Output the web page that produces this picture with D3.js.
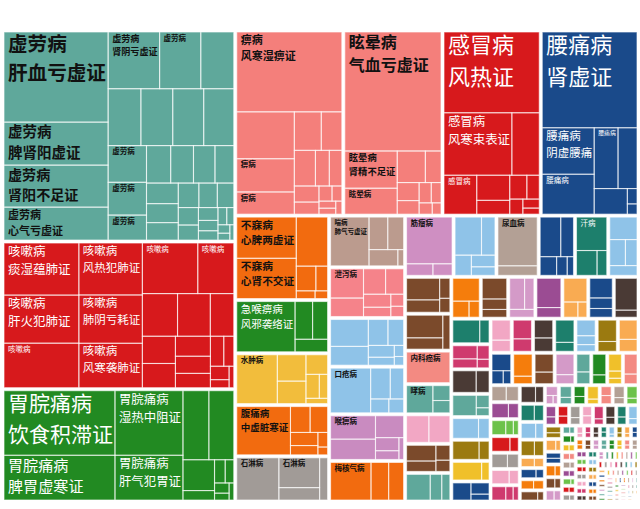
<!DOCTYPE html>
<html>
<head>
<meta charset="utf-8">
<script src="https://cdn.jsdelivr.net/npm/d3@7"></script>
<style>
  html, body { margin: 0; padding: 0; background: #fff; }
  svg { display: block; }
  text { font-family: "Noto Sans CJK SC", "Noto Sans", sans-serif; }
</style>
</head>
<body>
<div id="chart"></div>
<script>
const width = 640, height = 509;
const margin = {top: 32, right: 3, bottom: 9, left: 4};

// 病名（空字符串 = 图中无标注的病种）
const diseases = [
  "虚劳病", "咳嗽病", "胃脘痛病", "痹病", "眩晕病", "感冒病", "腰痛病",
  "不寐病", "急喉痹病", "水肿病", "腹痛病", "石淋病",
  "喘病", "泄泻病", "", "口疮病", "喉痹病", "梅核气病",
  "筋瘤病", "", "尿血病", "口僻病", "汗病", "",
  "", "", "内科癌病", "哮病", "", "", "",
  "", "", "", "", "", "", "",
  "", "", "", "", "", "", "", ""
];

// 每个病种下各证候的病例数
const counts = [
  [9330, 4450, 4350, 3400, 2900, 2320, 1860, 1850, 1800, 1750, 1700, 1400, 1250, 950, 900, 850, 800, 700, 650, 600, 550, 500, 450, 400, 350, 300, 250, 200, 180, 150, 120, 100, 80, 60],
  [3900, 3600, 3330, 3300, 3070, 2820, 2800, 1820, 1500, 1400, 1000, 900, 800, 700, 600, 500, 400, 300, 250, 150, 100],
  [7215, 4995, 4420, 3060, 1800, 1730, 980, 300, 250, 200, 150, 100, 80],
  [8480, 2730, 1935, 1290, 1050, 800, 760, 500, 450, 400, 300, 200, 150, 120, 100, 80],
  [11600, 1980, 1375, 900, 500, 400, 300, 250, 200, 150, 100],
  [7800, 4300, 1736, 1290, 840, 460, 414, 300, 200, 150, 100],
  [9200, 2450, 2100, 1470, 1170, 860, 150, 100],
  [2540, 2480, 1590, 500, 300, 150, 100],
  [3100, 700, 600, 430],
  [2100, 800, 680, 450, 340, 210, 120],
  [2750, 540, 480, 380, 270, 150, 80],
  [1900, 1300, 540, 360],
  [2000, 650, 550, 500, 100],
  [1030, 650, 600, 490, 380, 270, 165, 140],
  [1090, 760, 545, 435, 330, 220, 110, 86],
  [1920, 650, 440, 270, 220],
  [1130, 980, 660, 330, 220, 110],
  [1650, 720, 610],
  [2300, 330, 240],
  [1100, 560, 360, 300, 220],
  [2090, 410],
  [900, 560, 340, 220, 130],
  [1130, 570, 270],
  [690, 460, 340, 300],
  [800, 460, 230, 160],
  [920, 460, 270],
  [1500],
  [820, 290, 240],
  [680, 640],
  [530, 350, 240, 180],
  [700, 340, 240],
  [700, 300, 190],
  [590, 300, 220],
  [540, 340, 220],
  [820, 270],
  [640, 250, 160],
  [520, 280, 230],
  [820, 180],
  [720, 250],
  [380, 260, 190, 120],
  [600, 330],
  [570, 190, 120],
  [610, 250],
  [580, 220],
  [620, 160],
  [380, 250, 130]
];

// 证候标注：证名 = 两行（病名+证名），"-" = 只写病名，"" = 不标注
const labels = [
  ["肝血亏虚证", "脾肾阳虚证", "肾阳不足证", "心气亏虚证", "肾阴亏虚证", "-", "", "", "", "", "", "-", "-", "-"],
  ["痰湿蕴肺证", "肝火犯肺证", "-", "风热犯肺证", "肺阴亏耗证", "风寒袭肺证", "-", "-"],
  ["饮食积滞证", "脾胃虚寒证", "湿热中阻证", "肝气犯胃证"],
  ["风寒湿痹证", "", "-", "-"],
  ["气血亏虚证", "肾精不足证", "-"],
  ["风热证", "风寒束表证", "", "-"],
  ["肾虚证", "阴虚腰痛", "-", "-"],
  ["心脾两虚证", "心肾不交证"],
  ["风邪袭络证"],
  ["-"],
  ["中虚脏寒证"],
  ["-", "-"],
  ["肺气亏虚证"],
  ["-"],
  [],
  ["-"],
  ["-"],
  ["-"],
  ["-"],
  [],
  ["-"],
  ["-"],
  ["-"],
  [], [], [],
  ["-"],
  ["-"]
];

// 右下角的小病种
const tailCounts = [
  [450, 250], [420, 280], [400, 300], [500, 200], [350, 200, 150], [480, 220], [420, 260], [380, 180, 120], [500, 170], [400, 260], [450, 200],
  [300, 200], [350, 150], [280, 120, 90], [330, 160], [260, 220], [300, 180], [250, 140, 90], [320, 150], [270, 190], [300, 160], [240, 130, 90], [290, 160], [260, 180], [280, 150], [250, 170],
  [160, 110], [180, 90], [150, 120], [200, 70], [140, 80, 50], [170, 100], [150, 110], [190, 70], [130, 120], [160, 90], [140, 100], [170, 80], [130, 110], [150, 90], [120, 110], [160, 70], [140, 90], [130, 90], [150, 70], [120, 100], [140, 70], [110, 100], [130, 80], [120, 80], [110, 90],
  [70, 50], [80, 40], [60, 55], [65, 50], [70, 45], [60, 50], [75, 35], [55, 50], [60, 45], [65, 40], [55, 45], [60, 40], [50, 50], [70, 30], [55, 42], [60, 36], [50, 45], [48, 46], [55, 38], [52, 40], [50, 40], [45, 44], [55, 33], [48, 40], [50, 36], [44, 42], [46, 38], [48, 35], [42, 40], [45, 36], [40, 40], [44, 35], [42, 36], [40, 36], [38, 36], [40, 33], [36, 36], [38, 32], [35, 33], [34, 32],
  [50], [48], [47], [46], [45], [45], [44], [44], [43], [42], [42], [41], [40], [40], [40], [39], [39], [38], [38], [37], [37], [36], [36], [35], [35], [34], [34], [33], [33], [32], [32], [31], [31], [30], [30], [30], [29], [29], [28], [28], [27], [27], [26], [26], [25], [25], [24], [24], [23], [23], [22], [22], [21], [21], [20], [20], [20], [19], [19], [18]
];

// 颜色与字号上限（样式）
const diseaseColors = [
  "#5fa89b", "#d7191c", "#228a22", "#f47f7b", "#f47f7b", "#d7191c", "#1a4a8a",
  "#f26b0f", "#228a22", "#f2bd3c", "#f26b0f", "#a19b97",
  "#bb9b8e", "#f5838a", "#8fc3e8", "#8fc3e8", "#c98bc0", "#f26b0f",
  "#cf8fc2", "#8fc3e8", "#b3a095", "#1a4a8a", "#1d7f6c", "#8fc3e8",
  "#7b4a2b", "#7b4a2b", "#f38a82", "#5fa89b", "#f2a7c4", "#7b4a2b", "#5fa89b",
  "#f57d0c", "#7b4a2b", "#d49ac8", "#9b4c93", "#f9ab52", "#1a4a8a", "#4a3a35",
  "#1d7f6c", "#cf3a6e", "#4a3a35", "#5fa89b", "#8fc3e8", "#9b7a10", "#f0c02a", "#1a4a8a"
];
const tailPalette = ["#f2a7c4", "#cf3a6e", "#4a3a35", "#1d7f6c", "#8fc3e8", "#9b7a10", "#f9ab52", "#1a4a8a", "#f57d0c", "#7b4a2b",
  "#d49ac8", "#5fa89b", "#228a22", "#f0c02a", "#f38a82", "#b3a095", "#9b4c93", "#6cc24a", "#d7191c", "#a19b97"];
const maxFont = {"痹病": 11, "眩晕病": 16, "咳嗽病": 12.5};

// 组装层级数据
const groups = counts.map((vals, i) => ({
  name: diseases[i],
  color: diseaseColors[i],
  children: vals.map((v, j) => ({value: v, label: (labels[i] || [])[j] || ""}))
})).concat(tailCounts.map((vals, k) => ({
  name: "",
  color: tailPalette[k % tailPalette.length],
  children: vals.map(v => ({value: v, label: ""}))
})));

const root = d3.hierarchy({children: groups})
  .sum(d => d.value || 0)
  .sort((a, b) => b.value - a.value);

d3.treemap()
  .tile(d3.treemapSquarify)
  .size([width - margin.left - margin.right, height - margin.top - margin.bottom])
  .paddingInner(n => n.depth === 0 ? 3 : 0)(root);

const svg = d3.select("#chart")
  .append("svg")
  .attr("width", width)
  .attr("height", height);

const g = svg.append("g")
  .attr("transform", `translate(${margin.left},${margin.top})`);

// 病种底色
g.append("g")
  .selectAll("rect")
  .data(root.children)
  .join("rect")
  .attr("x", d => d.x0)
  .attr("y", d => d.y0)
  .attr("width", d => Math.max(0, d.x1 - d.x0))
  .attr("height", d => Math.max(0, d.y1 - d.y0))
  .attr("fill", d => d.data.color);

// 证候格子的浅色分隔线
g.append("g")
  .selectAll("rect")
  .data(root.leaves())
  .join("rect")
  .attr("x", d => d.x0)
  .attr("y", d => d.y0)
  .attr("width", d => Math.max(0, d.x1 - d.x0))
  .attr("height", d => Math.max(0, d.y1 - d.y0))
  .attr("fill", "none")
  .attr("stroke", "rgba(255,255,255,0.6)")
  .attr("stroke-width", 1.1);

// 标注
const labelLayer = g.append("g");
root.leaves().filter(d => d.data.label).forEach(d => {
  const disease = d.parent.data.name;
  const lines = d.data.label === "-" ? [disease] : [disease, d.data.label];
  const w = d.x1 - d.x0, h = d.y1 - d.y0;
  const maxChars = d3.max(lines, l => l.length);
  let fs = Math.min((w - 6) / maxChars, (h - 1) / (1.45 * lines.length), maxFont[disease] || 22);
  if (lines.length === 1) fs = Math.min(fs, 7.5);
  if (fs < 5) return;
  const lineH = fs * 1.45;
  const dark = d3.lab(d.parent.data.color).l > 56;
  lines.forEach((line, k) => {
    labelLayer.append("text")
      .attr("x", d.x0 + 4)
      .attr("y", d.y0 + 2 + fs * 0.88 + k * lineH)
      .attr("fill", dark ? "#111" : "#fff")
      .attr("font-size", fs.toFixed(1) + "px")
      .attr("font-weight", dark ? "bold" : "normal")
      .text(line);
  });
});
</script>
</body>
</html>
